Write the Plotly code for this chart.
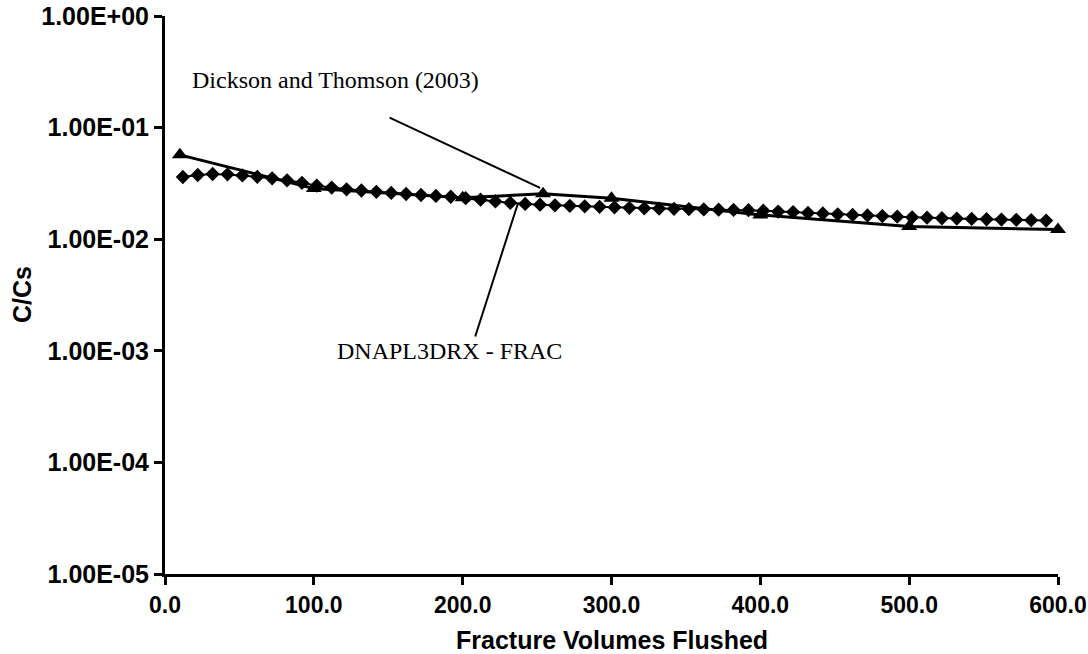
import plotly.graph_objects as go
import math

# Dickson and Thomson (2003) - triangles
dt_x = [10, 100, 200, 254, 300, 400, 500, 600]
dt_y = [0.057, 0.0285, 0.0235, 0.0255, 0.0233, 0.0165, 0.0130, 0.0122]

# DNAPL3DRX - FRAC - diamonds
dn_x = list(range(12, 593, 10))
dn_y = [0.0361, 0.0376, 0.0384, 0.0381, 0.0373, 0.0362, 0.0351, 0.0337, 0.0320, 0.0302,
        0.0290, 0.0280, 0.0273, 0.0266, 0.0260, 0.0254, 0.0249, 0.0244, 0.0240, 0.0233,
        0.0226, 0.0218, 0.0212, 0.0207, 0.0204, 0.0201, 0.0199, 0.0197, 0.0195, 0.0193,
        0.0191, 0.0189, 0.0188, 0.0187, 0.0186, 0.0185, 0.0184, 0.0183, 0.0182, 0.0180,
        0.0177, 0.0175, 0.0172, 0.0170, 0.0167, 0.0165, 0.0163, 0.0161, 0.0159, 0.0157,
        0.0156, 0.0154, 0.0153, 0.0152, 0.0151, 0.0150, 0.0149, 0.0148, 0.0147]

x_ticks = [0, 100, 200, 300, 400, 500, 600]
x_ticktext = ["0.0", "100.0", "200.0", "300.0", "400.0", "500.0", "600.0"]
y_ticks = [1e-5, 1e-4, 1e-3, 1e-2, 1e-1, 1e0]
y_ticktext = ["1.00E-05", "1.00E-04", "1.00E-03", "1.00E-02", "1.00E-01", "1.00E+00"]

label_dt = "Dickson and Thomson (2003)"
label_dn = "DNAPL3DRX - FRAC"

SANS = "Liberation Sans, Arial, sans-serif"
SERIF = "Liberation Serif, Times New Roman, serif"

fig = go.Figure()
fig.add_trace(go.Scatter(
    x=dn_x, y=dn_y, mode="lines+markers", name=label_dn,
    line=dict(color="black", width=2),
    marker=dict(symbol="diamond", size=11, color="black"),
    cliponaxis=False, showlegend=False))
fig.add_trace(go.Scatter(
    x=dt_x, y=dt_y, mode="lines+markers", name=label_dt,
    line=dict(color="black", width=3),
    marker=dict(symbol="triangle-up", size=14, color="black"),
    cliponaxis=False, showlegend=False))

# text labels
fig.add_annotation(x=17, y=-0.573, xref="x", yref="y", text=label_dt, showarrow=False,
                   xanchor="left", yanchor="middle",
                   font=dict(family=SERIF, size=24, color="black"))
fig.add_annotation(x=114, y=-3.0, xref="x", yref="y", text=label_dn, showarrow=False,
                   xanchor="left", yanchor="middle",
                   font=dict(family=SERIF, size=24, color="black"))
# pointer lines
fig.add_annotation(x=252, y=math.log10(0.0288), xref="x", yref="y", text="",
                   showarrow=True, arrowhead=0, arrowwidth=2, arrowcolor="black",
                   ax=-152, ay=-71, standoff=0)
fig.add_annotation(x=237, y=math.log10(0.0207), xref="x", yref="y", text="",
                   showarrow=True, arrowhead=0, arrowwidth=2, arrowcolor="black",
                   ax=-43, ay=134, standoff=0)

# axis titles placed as paper annotations
fig.add_annotation(x=0.5, y=-0.119, xref="paper", yref="paper", text="<b>Fracture Volumes Flushed</b>",
                   showarrow=False, xanchor="center", yanchor="middle",
                   font=dict(family=SANS, size=25, color="black"))
fig.add_annotation(x=-0.160, y=0.5, xref="paper", yref="paper", text="<b>C/Cs</b>",
                   showarrow=False, xanchor="center", yanchor="middle", textangle=-90,
                   font=dict(family=SANS, size=25, color="black"))

fig.update_layout(
    width=1088, height=654,
    margin=dict(l=165, r=30, t=16, b=80, autoexpand=False),
    plot_bgcolor="white", paper_bgcolor="white",
    font=dict(family=SANS, color="black"),
)
fig.update_xaxes(
    range=[0, 600], tickvals=x_ticks, ticktext=x_ticktext, automargin=False,
    showgrid=False, zeroline=False, showline=True, linecolor="black", linewidth=3,
    ticks="outside", ticklen=8, tickwidth=3, tickcolor="black",
    tickfont=dict(family=SANS, size=23, color="black", weight="bold"),
)
fig.update_yaxes(
    type="log", range=[-5, 0], tickvals=y_ticks, ticktext=y_ticktext, automargin=False,
    showgrid=False, zeroline=False, showline=True, linecolor="black", linewidth=3,
    ticks="outside", ticklen=8, tickwidth=3, tickcolor="black",
    tickfont=dict(family=SANS, size=25, color="black", weight="bold"),
)

fig.write_html("out.html", config={"displayModeBar": False},
               post_script="document.body.style.margin='0';document.body.style.overflow='hidden';")
